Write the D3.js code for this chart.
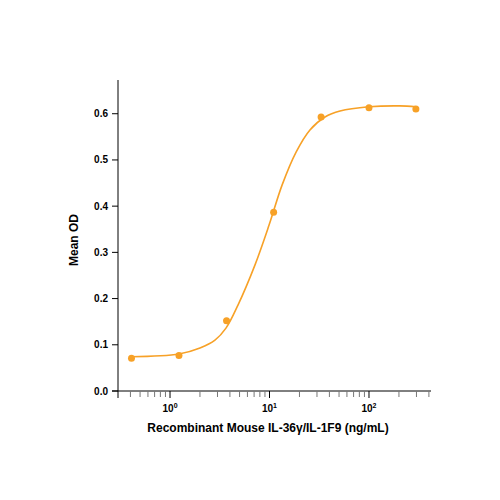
<!DOCTYPE html><html><head><script src="https://cdn.jsdelivr.net/npm/d3@7"></script>
<style>body{margin:0;background:#fff}text{font-family:"Liberation Sans",Arial,sans-serif;font-weight:bold}</style></head><body><svg id="c" width="500" height="500"></svg><script>
const pointX=[0.41,1.23,3.7,11,33,100,296];
const pointY=[0.071,0.077,0.152,0.387,0.593,0.613,0.61];
const curveX=[0.406,1.23,2.0,2.83,3.65,4.82,7.15,9.9,13.4,18.5,25.5,36.1,51.2,100,204,296];
const curveY=[0.074,0.080,0.093,0.110,0.136,0.186,0.273,0.359,0.446,0.517,0.565,0.593,0.606,0.615,0.617,0.615];
const yTicks=[0,0.1,0.2,0.3,0.4,0.5,0.6];
const xMajor=[1,10,100];
const color="#f7a127";
const svg=d3.select("#c");
const x=d3.scaleLog().domain([0.3,420]).range([118,431]);
const y=d3.scaleLinear().domain([0,0.673]).range([391,80]);
const minor=[];for(let d=0.1;d<=100;d*=10)for(let k=1;k<=9;k++){const v=d*k;if(v>=0.4&&v<=400)minor.push(v);}
const g=svg.append("g");
g.append("line").attr("x1",118).attr("x2",118).attr("y1",80).attr("y2",398).attr("stroke","#000");
g.append("line").attr("x1",112).attr("x2",431).attr("y1",391).attr("y2",391).attr("stroke","#000");
minor.forEach(v=>{const maj=xMajor.some(m=>Math.abs(m-v)<1e-6);g.append("line").attr("x1",x(v)).attr("x2",x(v)).attr("y1",391).attr("y2",maj?398:397).attr("stroke",maj?"#000":"#777");});
xMajor.forEach((v,i)=>{const t=g.append("text").attr("x",x(v)).attr("y",412).attr("text-anchor","middle").attr("font-size",10);t.append("tspan").text("10");t.append("tspan").attr("dy",-4).attr("font-size",7).text(i);});
yTicks.forEach(v=>{g.append("line").attr("x1",112).attr("x2",118).attr("y1",y(v)).attr("y2",y(v)).attr("stroke","#000");g.append("text").attr("x",108).attr("y",y(v)+3.5).attr("text-anchor","end").attr("font-size",10).text(v.toFixed(1));});
svg.append("path").datum(curveX.map((v,i)=>[v,curveY[i]])).attr("fill","none").attr("stroke",color).attr("stroke-width",1.6)
 .attr("d",d3.line().x(d=>x(d[0])).y(d=>y(d[1])).curve(d3.curveCatmullRom));
svg.selectAll("circle").data(pointX).join("circle").attr("cx",d=>x(d)).attr("cy",(d,i)=>y(pointY[i])).attr("r",3.5).attr("fill",color);
svg.append("text").attr("x",268).attr("y",432).attr("text-anchor","middle").attr("font-size",12).text("Recombinant Mouse IL-36γ/IL-1F9 (ng/mL)");
svg.append("text").attr("transform","translate(78,240) rotate(-90)").attr("text-anchor","middle").attr("font-size",12).text("Mean OD");
</script></body></html>
